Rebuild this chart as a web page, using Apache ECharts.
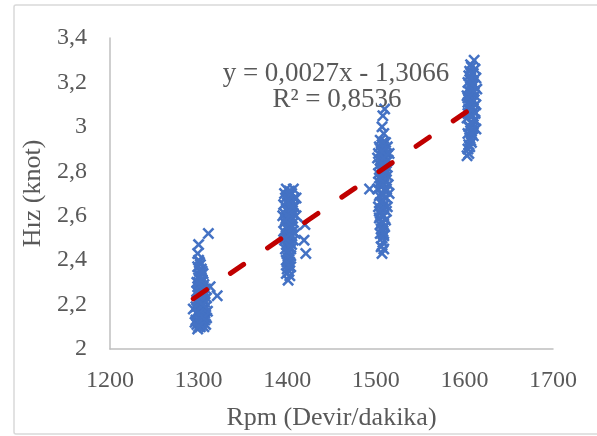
<!DOCTYPE html>
<html>
<head>
<meta charset="utf-8">
<script src="https://cdn.jsdelivr.net/npm/echarts@6/dist/echarts.min.js"></script>
<style>
  html, body { margin: 0; padding: 0; background: #fff; }
  #chart { width: 597px; height: 436px; }
</style>
</head>
<body>
<div id="chart"></div>
<script>
// Axis ticks
const xTicks = [1200, 1300, 1400, 1500, 1600, 1700];
const yTicks = [2, 2.2, 2.4, 2.6, 2.8, 3, 3.2, 3.4];

// Measured speed (knot) against engine speed (rpm), one list per throttle setting: [rpm, knot]
const run1300 = [[1299,2.09],[1306,2.10],[1302,2.10],[1298,2.11],[1308,2.11],[1304,2.12],[1300,2.12],[1307,2.13],[1297,2.13],[1303,2.14],[1309,2.14],[1301,2.15],[1305,2.15],[1298,2.16],[1307,2.16],[1303,2.17],[1299,2.17],[1306,2.18],[1301,2.18],[1308,2.19],[1297,2.19],[1304,2.20],[1300,2.20],[1307,2.21],[1302,2.21],[1298,2.22],[1306,2.22],[1303,2.23],[1309,2.23],[1300,2.24],[1305,2.24],[1301,2.25],[1307,2.25],[1298,2.26],[1304,2.26],[1302,2.27],[1308,2.27],[1299,2.28],[1305,2.28],[1301,2.29],[1306,2.29],[1303,2.30],[1298,2.30],[1304,2.31],[1300,2.32],[1302,2.33],[1305,2.34],[1301,2.35],[1303,2.36],[1299,2.37],[1302,2.38],[1301,2.39],[1300,2.40],[1299,2.43],[1300,2.47],[1311,2.52],[1321,2.24],[1313,2.28],[1294,2.18],[1296,2.12],[1310,2.17],[1305,2.13],[1302,2.19],[1306,2.25],
  [1302,2.11],[1304,2.13],[1302,2.15],[1304,2.17],[1303,2.19],[1301,2.21],[1304,2.23],[1302,2.25],[1304,2.27],[1302,2.29],[1303,2.31],[1301,2.33],[1304,2.35],[1300,2.10],[1306,2.14],[1300,2.16],[1305,2.20],[1299,2.22],[1306,2.26],[1300,2.30]];

const run1400 = [[1399,2.72],[1407,2.72],[1403,2.71],[1397,2.70],[1405,2.70],[1401,2.69],[1408,2.68],[1398,2.68],[1404,2.67],[1400,2.66],[1406,2.66],[1396,2.65],[1402,2.65],[1408,2.64],[1399,2.63],[1405,2.63],[1401,2.62],[1397,2.61],[1407,2.61],[1403,2.60],[1399,2.59],[1405,2.59],[1401,2.58],[1397,2.57],[1407,2.57],[1403,2.56],[1399,2.55],[1405,2.55],[1401,2.54],[1396,2.53],[1406,2.53],[1403,2.52],[1399,2.51],[1405,2.51],[1401,2.50],[1397,2.49],[1407,2.49],[1403,2.48],[1399,2.47],[1405,2.47],[1401,2.46],[1398,2.45],[1404,2.45],[1402,2.44],[1400,2.43],[1404,2.42],[1401,2.41],[1399,2.40],[1403,2.39],[1401,2.38],[1404,2.37],[1400,2.36],[1402,2.35],[1399,2.34],[1403,2.33],[1401,2.31],[1420,2.56],[1419,2.49],[1421,2.43],[1410,2.60],[1409,2.52],[1395,2.60],[1410,2.68],
  [1402,2.71],[1403,2.69],[1401,2.67],[1403,2.64],[1402,2.62],[1400,2.60],[1403,2.58],[1402,2.56],[1400,2.54],[1403,2.51],[1401,2.49],[1403,2.46],[1401,2.44],[1402,2.41],[1400,2.39],[1402,2.37],[1406,2.64],[1398,2.58],[1406,2.55],[1398,2.50]];

const run1500 = [[1510,3.08],[1508,3.05],[1507,3.00],[1509,2.97],[1505,2.94],[1511,2.93],[1507,2.92],[1504,2.91],[1513,2.91],[1509,2.90],[1506,2.89],[1512,2.88],[1503,2.88],[1508,2.87],[1511,2.86],[1505,2.85],[1514,2.85],[1509,2.84],[1504,2.83],[1507,2.82],[1512,2.82],[1505,2.81],[1510,2.80],[1503,2.79],[1508,2.79],[1513,2.78],[1506,2.77],[1511,2.76],[1504,2.75],[1509,2.74],[1514,2.74],[1506,2.73],[1502,2.72],[1493,2.72],[1511,2.71],[1507,2.70],[1504,2.69],[1512,2.68],[1508,2.67],[1505,2.66],[1510,2.65],[1503,2.64],[1507,2.63],[1512,2.62],[1505,2.61],[1509,2.60],[1504,2.59],[1511,2.58],[1507,2.57],[1505,2.56],[1510,2.55],[1506,2.54],[1508,2.53],[1505,2.52],[1509,2.51],[1507,2.50],[1508,2.48],[1506,2.46],[1509,2.45],[1507,2.43],[1515,2.70],[1515,2.88],[1502,2.86],[1513,2.64],
  [1508,2.93],[1509,2.91],[1507,2.89],[1509,2.86],[1508,2.83],[1506,2.81],[1509,2.78],[1507,2.75],[1510,2.72],[1508,2.69],[1506,2.66],[1509,2.63],[1507,2.60],[1508,2.57],[1507,2.54],[1509,2.52],[1512,2.80],[1504,2.77],[1512,2.72],[1504,2.62]];

const run1600 = [[1611,3.30],[1607,3.28],[1612,3.26],[1606,3.25],[1610,3.24],[1605,3.23],[1613,3.22],[1608,3.21],[1604,3.20],[1611,3.19],[1607,3.18],[1614,3.17],[1605,3.16],[1609,3.15],[1603,3.14],[1612,3.14],[1607,3.13],[1610,3.12],[1604,3.11],[1613,3.10],[1608,3.09],[1605,3.08],[1611,3.07],[1606,3.06],[1609,3.05],[1603,3.04],[1612,3.03],[1607,3.02],[1610,3.01],[1605,3.00],[1613,2.99],[1608,2.98],[1604,2.97],[1610,2.96],[1606,2.95],[1608,2.93],[1605,2.92],[1604,2.90],[1605,2.88],[1603,2.87],[1609,3.20],[1606,3.10],[1612,3.06],[1609,2.99],
  [1608,3.27],[1609,3.24],[1607,3.22],[1609,3.19],[1608,3.16],[1606,3.14],[1609,3.11],[1607,3.08],[1609,3.05],[1608,3.02],[1606,3.00],[1608,2.97],[1607,2.94],[1606,2.91],[1611,3.16],[1604,3.13],[1611,3.03],[1604,3.06]];

// Linear fit coefficients
const slope = 0.00273;
const intercept = -1.3066;
const rSquared = 0.8536;

const xName = 'Rpm (Devir/dakika)';
const yName = 'Hız (knot)';

const points = [].concat(run1300, run1400, run1500, run1600);
const allX = points.map(p => p[0]);
const xMin = Math.min.apply(null, allX);
const xMax = Math.max.apply(null, allX);
const trend = [[xMin, slope * xMin + intercept], [xMax, slope * xMax + intercept]];

const comma = v => String(v).replace('.', ',');
const fmt = v => v.toFixed(4).replace('.', ',');
const eqText = 'y = ' + fmt(slope) + 'x - ' + fmt(Math.abs(intercept));
const r2Text = 'R² = ' + fmt(rSquared);

// Filled "x" glyph for the scatter markers
const crossPath = 'path://M0,1.5L1.5,0L5,3.5L8.5,0L10,1.5L6.5,5L10,8.5L8.5,10L5,6.5L1.5,10L0,8.5L3.5,5Z';
const serif = '"Liberation Serif", "Times New Roman", serif';
const textColor = '#595959';

const chart = echarts.init(document.getElementById('chart'), null, { renderer: 'canvas' });
chart.setOption({
  animation: false,
  backgroundColor: '#fff',
  grid: { left: 110, top: 38, right: 44, bottom: 86 },
  xAxis: {
    type: 'value', min: xTicks[0], max: xTicks[xTicks.length - 1], interval: 100,
    name: xName, nameLocation: 'middle', nameGap: 56,
    nameTextStyle: { fontFamily: serif, fontSize: 26, color: textColor },
    axisLine: { show: true, lineStyle: { color: '#BFBFBF', width: 1.5 } },
    axisTick: { show: false },
    splitLine: { show: false },
    axisLabel: { fontFamily: serif, fontSize: 24, color: textColor, margin: 20, formatter: v => String(v) }
  },
  yAxis: {
    type: 'value', min: yTicks[0], max: yTicks[yTicks.length - 1], interval: 0.2,
    name: yName, nameLocation: 'middle', nameGap: 62, nameRotate: 90,
    nameTextStyle: { fontFamily: serif, fontSize: 26, color: textColor },
    axisLine: { show: true, lineStyle: { color: '#BFBFBF', width: 1.5 } },
    axisTick: { show: false },
    splitLine: { show: false },
    axisLabel: {
      fontFamily: serif, fontSize: 24, color: textColor, margin: 23,
      formatter: v => comma(Math.round(v * 10) / 10)
    }
  },
  graphic: [
    { type: 'rect', shape: { x: 14, y: 5, width: 600, height: 429, r: 2 },
      style: { fill: 'none', stroke: '#D9D9D9', lineWidth: 1.5 }, z: 0 },
    { type: 'text', x: 336, y: 74, z: 10,
      style: { text: eqText, fill: textColor, font: '27px ' + serif, align: 'center', verticalAlign: 'middle' } },
    { type: 'text', x: 337, y: 100, z: 10,
      style: { text: r2Text, fill: textColor, font: '27px ' + serif, align: 'center', verticalAlign: 'middle' } }
  ],
  series: [
    {
      type: 'scatter', data: points, symbol: crossPath, symbolSize: 12,
      itemStyle: { color: '#4472C4', opacity: 1 }, z: 2
    },
    {
      type: 'line', data: trend, symbol: 'none', z: 3,
      lineStyle: { color: '#C00000', width: 5, type: [16, 29], cap: 'round' }
    }
  ]
});
</script>
</body>
</html>
